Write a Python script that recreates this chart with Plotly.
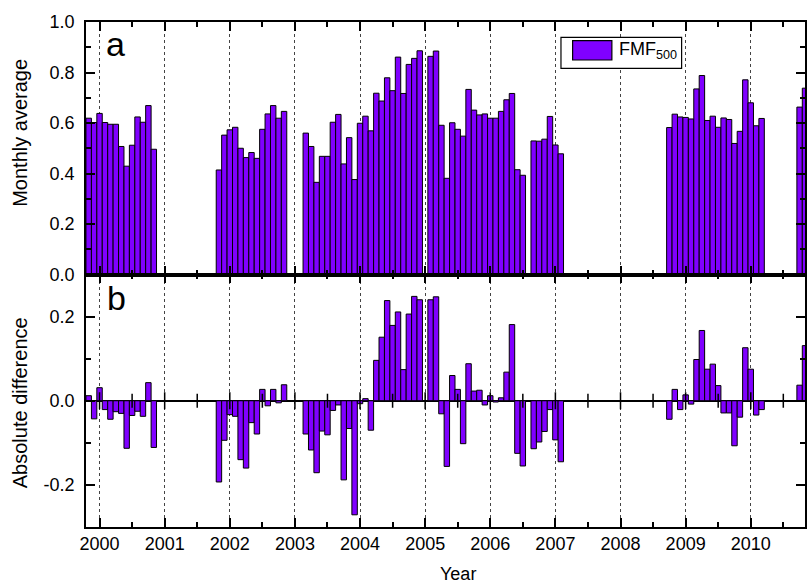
import plotly.graph_objects as go

# ---------------- data ----------------
months = [
    "1999-11", "1999-12", "2000-01", "2000-02", "2000-03", "2000-04", "2000-05",
    "2000-06", "2000-07", "2000-08", "2000-09", "2000-10", "2000-11",
    "2001-11", "2001-12", "2002-01", "2002-02", "2002-03", "2002-04", "2002-05",
    "2002-06", "2002-07", "2002-08", "2002-09", "2002-10", "2002-11",
    "2003-03", "2003-04", "2003-05", "2003-06", "2003-07", "2003-08", "2003-09",
    "2003-10", "2003-11", "2003-12", "2004-01", "2004-02", "2004-03", "2004-04",
    "2004-05", "2004-06", "2004-07", "2004-08", "2004-09", "2004-10", "2004-11",
    "2004-12",
    "2005-02", "2005-03", "2005-04", "2005-05", "2005-06", "2005-07", "2005-08",
    "2005-09", "2005-10", "2005-11", "2005-12", "2006-01", "2006-02", "2006-03",
    "2006-04", "2006-05", "2006-06", "2006-07",
    "2006-09", "2006-10", "2006-11", "2006-12", "2007-01", "2007-02",
    "2008-10", "2008-11", "2008-12", "2009-01", "2009-02", "2009-03", "2009-04",
    "2009-05", "2009-06", "2009-07", "2009-08", "2009-09", "2009-10", "2009-11",
    "2009-12", "2010-01", "2010-02", "2010-03",
    "2010-10", "2010-11",
]

fmf500 = [
    0.619, 0.602, 0.638, 0.602, 0.595, 0.595, 0.507, 0.429, 0.512, 0.624, 0.603, 0.669, 0.496,
    0.414, 0.552, 0.573, 0.583, 0.500, 0.463, 0.483, 0.460, 0.575, 0.636, 0.669, 0.619, 0.646,
    0.560, 0.507, 0.365, 0.468, 0.468, 0.603, 0.634, 0.438, 0.542, 0.376, 0.599, 0.627, 0.569,
    0.718, 0.687, 0.779, 0.728, 0.861, 0.717, 0.832, 0.856, 0.886,
    0.864, 0.885, 0.591, 0.381, 0.601, 0.575, 0.548, 0.733, 0.651, 0.632, 0.636, 0.619, 0.619,
    0.646, 0.692, 0.717, 0.415, 0.393,
    0.529, 0.528, 0.536, 0.626, 0.513, 0.478,
    0.582, 0.635, 0.624, 0.622, 0.616, 0.735, 0.788, 0.610, 0.627, 0.583, 0.620, 0.614, 0.519,
    0.567, 0.771, 0.680, 0.589, 0.618,
    0.663, 0.738,
]

abs_diff = [
    0.012, -0.043, 0.031, -0.021, -0.044, -0.026, -0.030, -0.113, -0.035, -0.025, -0.037, 0.043, -0.111,
    -0.193, -0.094, -0.033, -0.037, -0.140, -0.160, -0.052, -0.079, 0.027, -0.012, 0.027, -0.005, 0.038,
    -0.079, -0.117, -0.171, -0.072, -0.081, -0.023, -0.010, -0.188, -0.066, -0.271, -0.007, 0.005, -0.070,
    0.096, 0.151, 0.238, 0.179, 0.211, 0.074, 0.206, 0.248, 0.240,
    0.240, 0.247, -0.031, -0.156, 0.060, 0.027, -0.102, 0.088, 0.023, 0.025, -0.010, 0.012, -0.003,
    0.007, 0.068, 0.181, -0.125, -0.155,
    -0.114, -0.098, -0.073, -0.021, -0.093, -0.145,
    -0.044, 0.027, -0.021, 0.014, -0.008, 0.098, 0.167, 0.075, 0.087, 0.036, -0.029, -0.029, -0.107,
    -0.039, 0.126, 0.075, -0.034, -0.021,
    0.037, 0.131,
]

year_ticks = list(range(2000, 2011))
year_labels = [str(y) for y in year_ticks]
half_ticks = [y + 0.5 for y in range(1999, 2011)]
top_yticks = [0.0, 0.2, 0.4, 0.6, 0.8, 1.0]
top_ylabels = ["0.0", "0.2", "0.4", "0.6", "0.8", "1.0"]
bot_yticks = [-0.2, 0.0, 0.2]
bot_ylabels = ["-0.2", "0.0", "0.2"]

# ---------------- figure ----------------
BAR = "#8000FF"
FONT = "Liberation Sans, Arial, sans-serif"
x_dec = [int(m[:4]) + (int(m[5:]) - 1) / 12 for m in months]

fig = go.Figure()
fig.add_trace(go.Bar(x=x_dec, y=fmf500, width=1 / 12, xaxis="x", yaxis="y",
                     marker=dict(color=BAR, line=dict(color="black", width=1)),
                     name="FMF500", showlegend=False))
fig.add_trace(go.Bar(x=x_dec, y=abs_diff, width=1 / 12, xaxis="x2", yaxis="y2",
                     marker=dict(color=BAR, line=dict(color="black", width=1)),
                     showlegend=False))
# ticks along the zero line of panel b
fig.add_trace(go.Scatter(x=year_ticks, y=[0] * len(year_ticks), xaxis="x2", yaxis="y2",
                         mode="markers", hoverinfo="skip", showlegend=False,
                         marker=dict(symbol="line-ns", size=12, line=dict(color="black", width=1.5))))
fig.add_trace(go.Scatter(x=half_ticks, y=[0] * len(half_ticks), xaxis="x2", yaxis="y2",
                         mode="markers", hoverinfo="skip", showlegend=False,
                         marker=dict(symbol="line-ns", size=10, line=dict(color="black", width=1.5))))

xcommon = dict(range=[1999.792, 2010.833], tickmode="array", tickvals=year_ticks,
               ticktext=year_labels, ticks="inside", ticklen=9, tickwidth=1.5, tickcolor="black",
               showline=True, linecolor="black", linewidth=1.5, mirror="ticks",
               showgrid=True, gridcolor="#444444", griddash="dot", gridwidth=1, zeroline=False,
               minor=dict(tickvals=half_ticks, ticks="inside", ticklen=5, tickwidth=1.5,
                          tickcolor="black", showgrid=False),
               tickfont=dict(family=FONT, size=18, color="black"))
ycommon = dict(tickmode="array", ticks="inside", ticklen=9, tickwidth=1.5, tickcolor="black",
               showline=True, linecolor="black", linewidth=1.5, mirror="ticks",
               showgrid=False, tickfont=dict(family=FONT, size=18, color="black"),
               ticklabelstandoff=6)

fig.update_layout(
    width=807, height=584,
    margin=dict(l=86, r=0, t=22, b=57),
    paper_bgcolor="white", plot_bgcolor="white",
    barmode="overlay",
    font=dict(family=FONT, color="black"),
    xaxis=dict(xcommon, domain=[0, 1], anchor="y", showticklabels=False),
    xaxis2=dict(xcommon, domain=[0, 1], anchor="y2", showticklabels=True),
    yaxis=dict(ycommon, domain=[0.5, 1], anchor="x", range=[0, 1],
               tickvals=top_yticks, ticktext=top_ylabels, zeroline=False,
               minor=dict(dtick=0.1, tick0=0, ticks="inside", ticklen=5, tickwidth=1.5,
                          tickcolor="black", showgrid=False)),
    yaxis2=dict(ycommon, domain=[0, 0.5], anchor="x2", range=[-0.3, 0.3],
                tickvals=bot_yticks, ticktext=bot_ylabels,
                zeroline=True, zerolinecolor="black", zerolinewidth=1.5,
                minor=dict(dtick=0.1, tick0=0, ticks="inside", ticklen=5, tickwidth=1.5,
                           tickcolor="black", showgrid=False)),
    showlegend=False,
)

ann = [
    dict(text="a", x=0.0416, y=0.957, xref="paper", yref="paper", showarrow=False,
         xanchor="center", yanchor="middle", font=dict(size=34, family=FONT)),
    dict(text="b", x=0.0423, y=0.4535, xref="paper", yref="paper", showarrow=False,
         xanchor="center", yanchor="middle", font=dict(size=34, family=FONT)),
    dict(text="Monthly average", x=-0.0922, y=0.780, xref="paper", yref="paper",
         showarrow=False, textangle=-90, xanchor="center", yanchor="middle",
         font=dict(size=20, family=FONT)),
    dict(text="Absolute difference", x=-0.0922, y=0.2465, xref="paper", yref="paper",
         showarrow=False, textangle=-90, xanchor="center", yanchor="middle",
         font=dict(size=20, family=FONT)),
    dict(text="Year", x=0.5173, y=-0.094, xref="paper", yref="paper", showarrow=False,
         xanchor="center", yanchor="middle", font=dict(size=18, family=FONT)),
    dict(text="FMF<sub>500</sub>", x=0.7379, y=0.9426, xref="paper", yref="paper",
         showarrow=False, xanchor="left", yanchor="middle", font=dict(size=18, family=FONT)),
]
fig.update_layout(annotations=ann)

# legend box drawn by hand (paper coordinates)
fig.add_shape(type="rect", xref="paper", yref="paper", x0=0.6606, x1=0.8284, y0=0.9083,
              y1=0.9697, line=dict(color="black", width=1.2), fillcolor="white", layer="above")
fig.add_shape(type="rect", xref="paper", yref="paper", x0=0.6768, x1=0.7314, y0=0.9248,
              y1=0.963, line=dict(color="black", width=1.2), fillcolor=BAR, layer="above")

fig.write_html("out.html", config={"displayModeBar": False},
               post_script="document.body.style.margin='0';document.body.style.overflow='hidden';")
